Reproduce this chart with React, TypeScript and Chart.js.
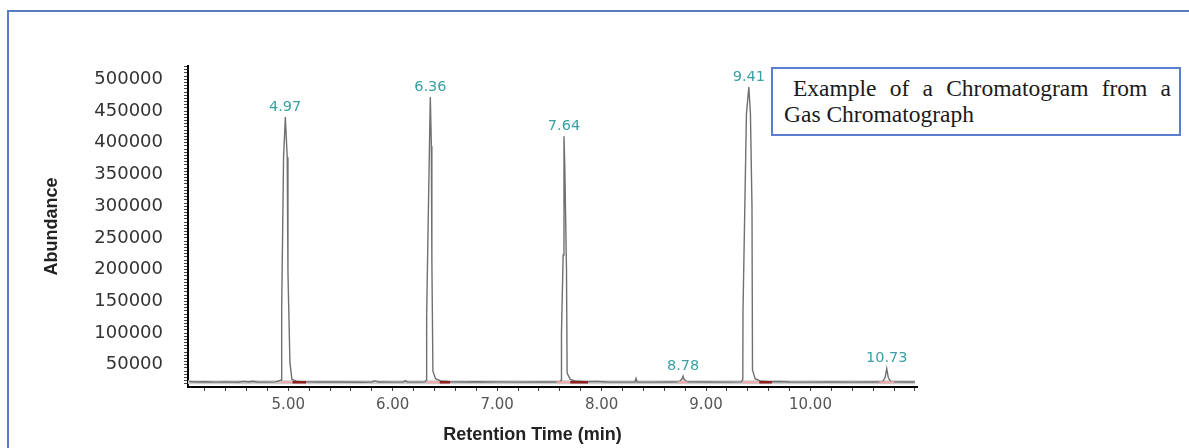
import React, { useEffect, useRef } from "react";
import { Chart, registerables } from "chart.js";

Chart.register(...registerables);

// Chromatogram trace (retention time in min, abundance)
const retentionTimes = [
  4.05, 4.12, 4.2, 4.3, 4.4, 4.52, 4.58, 4.62, 4.66, 4.7, 4.8, 4.88,
  4.935, 4.937, 4.955, 4.972, 4.99, 4.997, 5.016, 5.035, 5.08, 5.15, 5.3, 5.5,
  5.7, 5.8, 5.83, 5.86, 6.0, 6.1, 6.12, 6.14, 6.25, 6.31,
  6.324, 6.325, 6.34, 6.36, 6.37, 6.375, 6.385, 6.41, 6.46, 6.55, 6.7, 6.8,
  6.9, 7.0, 7.2, 7.4, 7.55, 7.6,
  7.614, 7.616, 7.632, 7.64, 7.648, 7.664, 7.67, 7.7, 7.75, 7.85, 7.95, 8.05,
  8.2, 8.32, 8.33, 8.34, 8.5, 8.65,
  8.74, 8.77, 8.78, 8.79, 8.82, 9.0, 9.2, 9.34,
  9.352, 9.354, 9.387, 9.41, 9.425, 9.44, 9.445, 9.47, 9.52, 9.6, 9.7, 9.8,
  10.0, 10.2, 10.4, 10.6,
  10.69, 10.715, 10.73, 10.745, 10.77, 10.9, 11.0,
];
const abundance = [
  23600, 22900, 23300, 22700, 23100, 22600, 23800, 22800, 24000, 22900, 22700, 23000,
  26000, 137000, 377000, 440600, 377000, 196000, 53000, 27000, 24200, 23100, 22800, 22900,
  22600, 22900, 25000, 22800, 22700, 22900, 25000, 22800, 22700, 23000,
  26000, 125000, 278000, 472100, 395000, 215000, 40000, 28000, 24500, 23300, 22900, 23200,
  22800, 23000, 22700, 22900, 22800, 23000,
  26000, 100000, 223000, 410300, 360000, 200000, 37000, 27000, 24500, 23300, 23800, 22800,
  22700, 22900, 28500, 22800, 22700, 22900,
  23000, 27500, 32000, 27000, 23000, 22800, 22700, 23000,
  27000, 134000, 446000, 488000, 446000, 300000, 42000, 28000, 24500, 23200, 23600, 22800,
  22700, 22900, 22700, 22800,
  23000, 30000, 44000, 30000, 23000, 22800, 22900,
];

// Baseline band
const baselineTimes = [4.04, 11.0];
const baselineLevel = [22500, 22500];

// Integration markers (start = pink, end = dark red)
const peakStartFrom = [4.93, 6.33, 7.57, 8.73, 9.35, 10.66];
const peakStartTo = [5.03, 6.45, 7.7, 8.82, 9.5, 10.8];
const peakEndFrom = [5.04, 6.45, 7.7, 9.51];
const peakEndTo = [5.17, 6.55, 7.87, 9.63];

// Peak labels
const peakTimes = [4.97, 6.36, 7.64, 8.78, 9.41, 10.73];
const peakHeights = [440600, 472100, 410300, 32000, 488000, 44000];
const peakLabels = ["4.97", "6.36", "7.64", "8.78", "9.41", "10.73"];

// Axes
const xMin = 4.04;
const xMax = 11.02;
const xMajorTicks = [5, 6, 7, 8, 9, 10];
const xTickLabels = ["5.00", "6.00", "7.00", "8.00", "9.00", "10.00"];
const yMin = 15000;
const yMax = 521000;
const yMajorTicks = [50000, 100000, 150000, 200000, 250000, 300000, 350000, 400000, 450000, 500000];
const yTickLabels = ["50000", "100000", "150000", "200000", "250000", "300000", "350000", "400000", "450000", "500000"];

const xTitle = "Retention Time (min)";
const yTitle = "Abundance";

function segments(from: number[], to: number[], level: number) {
  const pts: { x: number; y: number | null }[] = [];
  from.forEach((f, i) => {
    pts.push({ x: f, y: level });
    pts.push({ x: to[i], y: level });
    pts.push({ x: to[i], y: null });
  });
  return pts;
}

const peakLabelPlugin = {
  id: "peakLabels",
  afterDatasetsDraw(chart: any) {
    const { ctx, scales, chartArea } = chart;
    const xs = scales.x;
    const ys = scales.y;
    ctx.save();
    ctx.font = '14.5px "DejaVu Sans"';
    ctx.fillStyle = "#37a2a3";
    ctx.textAlign = "center";
    ctx.textBaseline = "middle";
    peakTimes.forEach((t, i) => {
      ctx.fillText(peakLabels[i], xs.getPixelForValue(t), ys.getPixelForValue(peakHeights[i]) - 10);
    });
    ctx.font = 'bold 18px "Liberation Sans"';
    ctx.fillStyle = "#222";
    ctx.fillText(xTitle, (chartArea.left + chartArea.right) / 2 - 20, 435);
    ctx.restore();
  },
};

export default function App() {
  const canvasRef = useRef<HTMLCanvasElement>(null);

  useEffect(() => {
    if (!canvasRef.current) return;
    Chart.defaults.font.family = '"DejaVu Sans"';
    const xTicksAll: number[] = [];
    for (let v = 4.2; v <= 11.0001; v += 0.2) xTicksAll.push(Math.round(v * 10) / 10);
    const yTicksAll: number[] = [];
    for (let v = 20000; v <= 520000; v += 5000) yTicksAll.push(v);

    const chart = new Chart(canvasRef.current, {
      type: "line",
      data: {
        datasets: [
          {
            label: "Peak end",
            data: segments(peakEndFrom, peakEndTo, 22500),
            borderColor: "#8e1f1f",
            borderWidth: 2.5,
            pointRadius: 0,
            spanGaps: false,
            order: 1,
          },
          {
            label: "Peak start",
            data: segments(peakStartFrom, peakStartTo, 22500),
            borderColor: "#f0a8a8",
            borderWidth: 2,
            pointRadius: 0,
            spanGaps: false,
            order: 2,
          },
          {
            label: "Signal",
            data: retentionTimes.map((t, i) => ({ x: t, y: abundance[i] })),
            borderColor: "#707070",
            borderWidth: 1.4,
            pointRadius: 0,
            tension: 0,
            order: 3,
          },
          {
            label: "Baseline",
            data: baselineTimes.map((t, i) => ({ x: t, y: baselineLevel[i] })),
            borderColor: "#cfcfcf",
            borderWidth: 4,
            pointRadius: 0,
            order: 4,
          },
        ],
      },
      options: {
        animation: false,
        responsive: true,
        maintainAspectRatio: false,
        layout: { padding: { top: 66, left: 0, right: 272, bottom: 0 } },
        plugins: {
          legend: { display: false },
          tooltip: { enabled: false },
        },
        scales: {
          x: {
            type: "linear",
            min: xMin,
            max: xMax,
            afterBuildTicks: (scale: any) => {
              scale.ticks = xTicksAll.map((v) => ({ value: v }));
            },
            afterFit: (scale: any) => {
              scale.height = 61;
            },
            border: { display: true, color: "#000", width: 2 },
            grid: { drawOnChartArea: false, drawTicks: true, tickLength: 4, tickColor: "#444", tickWidth: 1 },
            ticks: {
              autoSkip: false,
              maxRotation: 0,
              padding: 5,
              color: "#555",
              font: { size: 15, family: '"DejaVu Sans"' },
              callback: (value: any) => {
                const idx = xMajorTicks.findIndex((m) => Math.abs(m - Number(value)) < 1e-6);
                return idx >= 0 ? xTickLabels[idx] : "";
              },
            },
          },
          y: {
            type: "linear",
            min: yMin,
            max: yMax,
            afterBuildTicks: (scale: any) => {
              scale.ticks = yTicksAll.map((v) => ({ value: v }));
            },
            afterFit: (scale: any) => {
              scale.width = 188;
            },
            border: { display: true, color: "#000", width: 2 },
            grid: { drawOnChartArea: false, drawTicks: true, tickLength: 4, tickColor: "#444", tickWidth: 1 },
            title: {
              display: true,
              text: yTitle,
              color: "#222",
              font: { size: 18, weight: "bold", family: '"Liberation Sans"' },
              padding: { top: 41, bottom: 0 },
            },
            ticks: {
              autoSkip: false,
              padding: 21,
              color: "#333",
              font: { size: 18, family: '"DejaVu Sans"' },
              callback: (value: any) => {
                const idx = yMajorTicks.indexOf(Number(value));
                return idx >= 0 ? yTickLabels[idx] : "";
              },
            },
          },
        },
      },
      plugins: [peakLabelPlugin],
    } as any);
    return () => chart.destroy();
  }, []);

  return (
    <div
      style={{
        position: "fixed",
        left: 0,
        top: 0,
        width: 1189,
        height: 448,
        overflow: "hidden",
        background: "#fff",
      }}
    >
      <div
        style={{
          position: "absolute",
          left: 7,
          top: 10,
          width: 1300,
          height: 600,
          borderLeft: "2px solid #5a7cc0",
          borderTop: "2px solid #5a7cc0",
        }}
      />
      <div style={{ position: "absolute", left: 0, top: 0, width: 1189, height: 448 }}>
        <canvas ref={canvasRef} />
      </div>
      <div
        style={{
          position: "absolute",
          left: 771,
          top: 67,
          width: 410,
          height: 69,
          boxSizing: "border-box",
          border: "2px solid #5a7ed0",
          background: "#fff",
          padding: "6px 8px 0 11px",
          fontFamily: '"Liberation Serif", "Times New Roman", serif',
          fontSize: 23.5,
          lineHeight: "26px",
          color: "#1a1a1a",
        }}
      >
        <div style={{ textAlign: "justify", textAlignLast: "justify", textIndent: 9 }}>
          Example of a Chromatogram from a
        </div>
        <div>Gas Chromatograph</div>
      </div>
    </div>
  );
}
